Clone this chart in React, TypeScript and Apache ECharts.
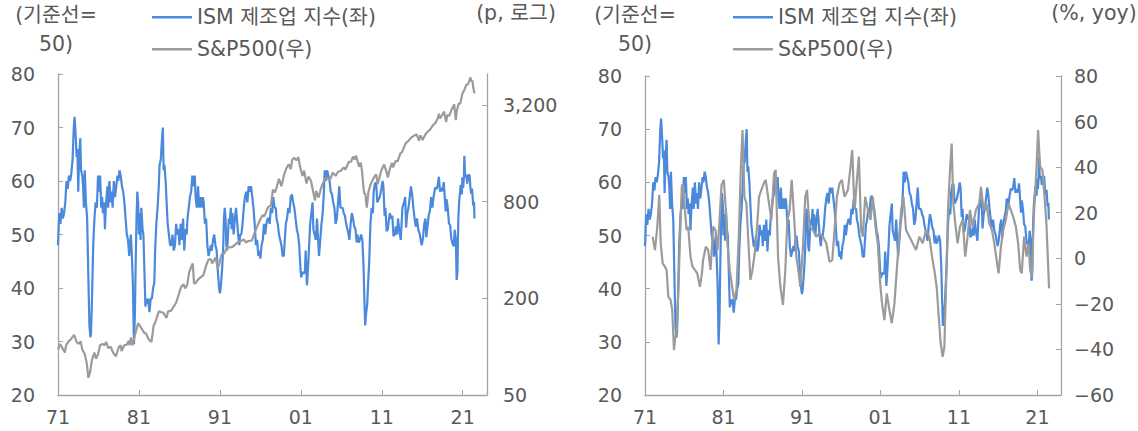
import { useEffect, useRef } from 'react';
import * as echarts from 'echarts';

const ismName = 'ISM 제조업 지수(좌)';
const spName = 'S&P500(우)';

const xTickYears = [1971, 1981, 1991, 2001, 2011, 2021];
const spTickLevels = [50, 200, 800, 3200];

const ismYears = [
  1971.0, 1971.15, 1971.3, 1971.45, 1971.6, 1971.75, 1971.9, 1972.05, 1972.2, 1972.35, 1972.5, 1972.65, 1972.8, 1972.95,
  1973.05, 1973.2, 1973.3, 1973.4, 1973.5, 1973.6, 1973.75, 1973.85, 1974.0, 1974.1, 1974.2, 1974.3, 1974.45, 1974.6,
  1974.75, 1974.88, 1975.0, 1975.08, 1975.2, 1975.35, 1975.5, 1975.65, 1975.8, 1975.95, 1976.1, 1976.2, 1976.35, 1976.45,
  1976.55, 1976.7, 1976.8, 1976.9, 1977.0, 1977.1, 1977.2, 1977.35, 1977.5, 1977.6, 1977.75, 1977.9, 1978.05, 1978.2,
  1978.35, 1978.45, 1978.6, 1978.75, 1978.9, 1979.05, 1979.2, 1979.35, 1979.5, 1979.65, 1979.8, 1979.9, 1980.0, 1980.1,
  1980.25, 1980.38, 1980.5, 1980.6, 1980.7, 1980.8, 1980.9, 1981.0, 1981.1, 1981.2, 1981.3, 1981.45, 1981.55, 1981.7,
  1981.8, 1981.9, 1982.0, 1982.15, 1982.3, 1982.45, 1982.6, 1982.75, 1982.9, 1983.0, 1983.15, 1983.3, 1983.45, 1983.55,
  1983.7, 1983.85, 1983.95, 1984.05, 1984.15, 1984.3, 1984.45, 1984.55, 1984.7, 1984.85, 1985.0, 1985.15, 1985.3, 1985.45,
  1985.6, 1985.75, 1985.9, 1986.0, 1986.15, 1986.3, 1986.45, 1986.6, 1986.75, 1986.9, 1987.0, 1987.15, 1987.3, 1987.45,
  1987.6, 1987.75, 1987.9, 1988.0, 1988.15, 1988.3, 1988.45, 1988.6, 1988.75, 1988.9, 1989.0, 1989.15, 1989.3, 1989.45,
  1989.6, 1989.75, 1989.9, 1990.0, 1990.15, 1990.3, 1990.45, 1990.6, 1990.75, 1990.9, 1991.0, 1991.1, 1991.25, 1991.4,
  1991.5, 1991.6, 1991.7, 1991.8, 1991.9, 1992.0, 1992.1, 1992.2, 1992.35, 1992.45, 1992.55, 1992.7, 1992.85, 1993.0,
  1993.1, 1993.25, 1993.4, 1993.5, 1993.65, 1993.8, 1993.95, 1994.1, 1994.25, 1994.4, 1994.55, 1994.7, 1994.85, 1995.0,
  1995.15, 1995.3, 1995.45, 1995.6, 1995.75, 1995.9, 1996.0, 1996.15, 1996.3, 1996.45, 1996.6, 1996.75, 1996.9, 1997.0,
  1997.15, 1997.3, 1997.45, 1997.6, 1997.75, 1997.9, 1998.0, 1998.15, 1998.3, 1998.45, 1998.6, 1998.75, 1998.9, 1999.0,
  1999.15, 1999.3, 1999.45, 1999.6, 1999.75, 1999.9, 2000.05, 2000.2, 2000.35, 2000.5, 2000.65, 2000.8, 2000.95, 2001.05,
  2001.2, 2001.35, 2001.5, 2001.6, 2001.75, 2001.9, 2002.0, 2002.15, 2002.3, 2002.45, 2002.55, 2002.7, 2002.85, 2003.0,
  2003.1, 2003.25, 2003.4, 2003.55, 2003.7, 2003.85, 2003.95, 2004.1, 2004.25, 2004.4, 2004.55, 2004.7, 2004.85, 2005.0,
  2005.15, 2005.3, 2005.45, 2005.6, 2005.75, 2005.9, 2006.0, 2006.15, 2006.3, 2006.45, 2006.6, 2006.75, 2006.9, 2007.0,
  2007.15, 2007.3, 2007.45, 2007.6, 2007.75, 2007.9, 2008.0, 2008.15, 2008.3, 2008.45, 2008.6, 2008.75, 2008.85, 2008.95,
  2009.05, 2009.2, 2009.35, 2009.45, 2009.6, 2009.75, 2009.9, 2010.0, 2010.15, 2010.3, 2010.45, 2010.6, 2010.75, 2010.95,
  2011.1, 2011.2, 2011.35, 2011.45, 2011.6, 2011.75, 2011.9, 2012.0, 2012.15, 2012.3, 2012.45, 2012.6, 2012.75, 2012.9,
  2013.0, 2013.15, 2013.35, 2013.55, 2013.75, 2013.9, 2014.0, 2014.15, 2014.3, 2014.45, 2014.6, 2014.75, 2014.9, 2015.05,
  2015.2, 2015.35, 2015.5, 2015.7, 2015.85, 2015.95, 2016.1, 2016.25, 2016.4, 2016.5, 2016.65, 2016.8, 2016.95, 2017.1,
  2017.25, 2017.4, 2017.6, 2017.75, 2017.9, 2018.05, 2018.2, 2018.35, 2018.5, 2018.65, 2018.75, 2018.9, 2019.0, 2019.15,
  2019.3, 2019.45, 2019.6, 2019.75, 2019.9, 2020.0, 2020.15, 2020.25, 2020.35, 2020.45, 2020.55, 2020.75, 2020.9, 2020.95,
  2021.05, 2021.15, 2021.2, 2021.3, 2021.45, 2021.55, 2021.7, 2021.85, 2021.95, 2022.05, 2022.15, 2022.3, 2022.4, 2022.45,
];
const ismValues = [
  48, 54, 52, 55, 53, 54, 56, 60, 58.5, 61, 60, 61.5, 64, 70,
  72, 68, 64.5, 66, 58, 64, 68, 62, 61, 59, 55, 62, 56, 53,
  42, 33, 30.8, 31.5, 38, 48, 53, 56, 55, 61, 58, 61, 55, 57,
  54, 56, 51, 55, 57, 59, 55, 60, 56, 58, 55, 60, 57, 59,
  61, 60, 62, 61, 59, 58, 56, 53, 50, 49, 46, 48, 50, 47,
  41, 29.5, 35, 45, 53, 58, 56, 50, 54, 49, 55, 51, 50, 42,
  36.5, 38, 37, 38, 35.5, 38, 38, 40, 41, 47, 52, 55, 59, 63,
  64, 68, 70, 62, 63, 60, 55, 52, 50, 48, 48, 50, 47, 48,
  52, 50, 51, 48, 52, 49, 53, 47, 51, 50, 53, 55, 57, 58,
  61, 59, 61, 57, 55, 59, 55, 57, 55, 57, 56, 52, 53, 48,
  46, 47, 48, 47, 49, 50, 48, 47, 43, 40, 39, 40, 43, 47,
  53, 55, 53, 48, 47, 50, 53, 52, 55, 51, 54, 50, 53, 55,
  53, 50, 48, 50, 50, 52, 55, 57, 58, 56, 59, 58, 59, 57,
  55, 52, 48, 49, 46, 47, 45.5, 48, 49, 52, 50, 52, 53, 53,
  52, 55, 54, 57, 55, 55, 53, 52, 50, 49, 48, 46, 46, 48.5,
  52, 53, 55, 54, 57, 57.5, 56, 55, 53, 51, 50, 48, 43.7, 42,
  43, 42.7, 43, 47, 40.5, 44, 47, 52, 54, 56, 51, 50, 49, 53,
  50, 46, 49, 52, 54, 58, 62, 60, 62, 61, 60, 58, 57.5, 56,
  55, 52, 53, 56, 59, 55, 55, 55, 54, 53.5, 52, 51, 50, 49,
  52, 54, 53, 51.5, 51, 48.5, 50, 48.5, 49, 50, 49, 44, 38, 33,
  35, 37, 42, 45, 52, 55, 54, 58, 59.5, 59.7, 56, 56.5, 57, 58.5,
  60, 59, 53.5, 55, 50.6, 51, 53, 54, 53, 53.5, 49.7, 50, 51.5, 50,
  53, 51, 49, 55, 56, 57, 51.3, 54, 55, 57, 59, 57.5, 55, 53,
  51.5, 53, 51, 50, 48.6, 48, 49.5, 52, 53, 49.5, 51.5, 53.5, 54.5, 57,
  55, 57, 58.8, 58.5, 59, 60.8, 58, 58.7, 58.1, 59.8, 57.7, 54.3, 56.6, 55,
  52.1, 51.7, 49.1, 48.3, 47.8, 50.9, 49.1, 41.5, 43.1, 52.6, 56, 59.3, 57.5, 60.7,
  58.7, 60.8, 64.7, 60.7, 61.2, 59.5, 61.1, 61.1, 58.8, 57.6, 58.6, 55.4, 56.1, 53.0,
];

const spYears = [
  1971.0, 1971.25, 1971.5, 1971.85, 1972.0, 1972.3, 1972.6, 1972.9, 1973.0, 1973.3, 1973.55, 1973.8, 1974.0, 1974.3,
  1974.55, 1974.75, 1974.95, 1975.2, 1975.5, 1975.7, 1975.95, 1976.2, 1976.5, 1976.75, 1976.95, 1977.2, 1977.5, 1977.8,
  1978.15, 1978.5, 1978.75, 1978.85, 1979.2, 1979.5, 1979.75, 1979.85, 1980.0, 1980.2, 1980.5, 1980.9, 1981.2, 1981.6,
  1981.9, 1982.2, 1982.55, 1982.8, 1983.1, 1983.45, 1983.8, 1984.0, 1984.4, 1984.6, 1984.95, 1985.3, 1985.6, 1985.9,
  1986.2, 1986.5, 1986.7, 1986.95, 1987.2, 1987.5, 1987.65, 1987.8, 1987.95, 1988.3, 1988.6, 1988.95, 1989.3, 1989.6,
  1989.9, 1990.05, 1990.45, 1990.75, 1990.95, 1991.2, 1991.5, 1991.95, 1992.3, 1992.6, 1992.95, 1993.3, 1993.6, 1993.95,
  1994.2, 1994.5, 1994.95, 1995.3, 1995.6, 1995.95, 1996.3, 1996.5, 1996.95, 1997.3, 1997.55, 1997.8, 1998.0, 1998.3,
  1998.6, 1998.9, 1999.2, 1999.5, 1999.75, 1999.95, 2000.2, 2000.45, 2000.7, 2000.9, 2001.2, 2001.4, 2001.7, 2001.95,
  2002.25, 2002.55, 2002.75, 2002.9, 2003.2, 2003.5, 2003.95, 2004.25, 2004.6, 2004.95, 2005.3, 2005.6, 2005.95, 2006.3,
  2006.5, 2006.95, 2007.2, 2007.45, 2007.65, 2007.8, 2007.95, 2008.2, 2008.4, 2008.55, 2008.75, 2008.85, 2008.95, 2009.15,
  2009.35, 2009.6, 2009.95, 2010.3, 2010.5, 2010.95, 2011.3, 2011.6, 2011.75, 2011.95, 2012.25, 2012.4, 2012.7, 2012.95,
  2013.3, 2013.5, 2013.95, 2014.3, 2014.6, 2014.95, 2015.3, 2015.6, 2015.75, 2016.05, 2016.3, 2016.6, 2016.95, 2017.3,
  2017.6, 2017.95, 2018.05, 2018.2, 2018.5, 2018.7, 2018.95, 2019.1, 2019.35, 2019.6, 2019.95, 2020.15, 2020.25, 2020.5,
  2020.7, 2020.95, 2021.2, 2021.45, 2021.65, 2021.85, 2021.95, 2022.05, 2022.2, 2022.3, 2022.45,
];
const spValues = [
  96, 104, 99, 92, 102, 108, 111, 117, 118, 107, 104, 108, 96, 90,
  79, 64, 69, 83, 92, 84, 90, 102, 104, 102, 107, 98, 100, 92,
  87, 99, 102, 94, 102, 103, 109, 102, 114, 102, 118, 140, 133, 123,
  120, 111, 107, 134, 146, 166, 164, 163, 151, 166, 167, 178, 188, 210,
  235, 245, 231, 242, 290, 318, 330, 250, 247, 262, 270, 278, 320, 350,
  350, 330, 360, 306, 330, 375, 380, 417, 415, 420, 435, 450, 455, 466,
  446, 455, 459, 515, 560, 615, 660, 650, 740, 760, 950, 915, 980, 1110,
  1000, 1163, 1290, 1370, 1280, 1469, 1500, 1450, 1517, 1320, 1160, 1250, 1040, 1148,
  1080, 911, 815, 936, 849, 975, 1112, 1120, 1100, 1212, 1160, 1230, 1248, 1310,
  1270, 1418, 1420, 1530, 1470, 1549, 1468, 1320, 1400, 1260, 968, 896, 903, 735,
  919, 1020, 1115, 1186, 1030, 1258, 1363, 1218, 1131, 1258, 1400, 1310, 1440, 1426,
  1600, 1630, 1848, 1920, 2000, 2060, 2100, 1920, 2080, 1940, 2065, 2170, 2240, 2390,
  2470, 2673, 2824, 2640, 2800, 2913, 2507, 2780, 2750, 2980, 3230, 2580, 2910, 3270,
  3270, 3760, 3970, 4300, 4310, 4570, 4766, 4515, 4530, 4130, 3785,
];

const yoyYears = [
  1971.97, 1972.27, 1972.57, 1972.82, 1973.0, 1973.25, 1973.54, 1973.75, 1973.97, 1974.26, 1974.47, 1974.69, 1974.86, 1975.03,
  1975.28, 1975.53, 1975.7, 1975.87, 1976.08, 1976.3, 1976.5, 1976.8, 1977.06, 1977.36, 1977.65, 1978.0, 1978.25, 1978.4,
  1978.75, 1979.05, 1979.35, 1979.69, 1979.98, 1980.24, 1980.45, 1980.75, 1981.04, 1981.3, 1981.5, 1981.8, 1982.1, 1982.36,
  1982.65, 1982.95, 1983.2, 1983.42, 1983.67, 1983.92, 1984.18, 1984.43, 1984.69, 1984.98, 1985.28, 1985.53, 1985.83, 1986.13,
  1986.38, 1986.68, 1987.1, 1987.44, 1987.65, 1987.95, 1988.25, 1988.58, 1988.88, 1989.14, 1989.43, 1989.69, 1989.94, 1990.28,
  1990.53, 1990.79, 1991.13, 1991.42, 1991.64, 1991.97, 1992.4, 1992.82, 1993.25, 1993.67, 1994.1, 1994.5, 1994.86, 1995.15,
  1995.45, 1995.79, 1996.08, 1996.42, 1996.85, 1997.14, 1997.4, 1997.7, 1998.0, 1998.25, 1998.54, 1998.75, 1999.05, 1999.4,
  1999.73, 2000.03, 2000.36, 2000.66, 2000.96, 2001.2, 2001.5, 2001.8, 2002.14, 2002.44, 2002.78, 2003.08, 2003.33, 2003.63,
  2003.92, 2004.26, 2004.69, 2005.1, 2005.53, 2005.96, 2006.38, 2006.8, 2007.23, 2007.57, 2007.86, 2008.16, 2008.42, 2008.67,
  2008.92, 2009.14, 2009.35, 2009.6, 2009.86, 2010.07, 2010.28, 2010.53, 2010.83, 2011.13, 2011.47, 2011.8, 2012.1, 2012.4,
  2012.74, 2013.16, 2013.58, 2013.8, 2014.14, 2014.5, 2014.86, 2015.2, 2015.5, 2015.8, 2016.05, 2016.35, 2016.64, 2016.97,
  2017.31, 2017.6, 2017.9, 2018.25, 2018.54, 2018.8, 2019.0, 2019.3, 2019.6, 2019.86, 2020.07, 2020.28, 2020.58, 2020.87,
  2021.08, 2021.34, 2021.64, 2021.9, 2022.14, 2022.48,
];
const yoyValues = [
  9.5, 3.6, 13.9, 27.8, 6.6, -2.2, -3.7, -5.1, -16.8, -18.3, -22.7, -40.3, -34.4, -33,
  -11, 16.8, 32.2, 32, 21.2, 12.4, 13.9, 0.7, -3.7, -5.1, -6.6, -12.5, -6.6, -0.8,
  5.1, 3.6, -5.1, 13.9, 12.4, 3.6, 13.9, 32.2, 34.4, 21.2, 6.6, -5.1, -12.5, -18.3,
  -13.9, 9.5, 38.7, 56.3, 27, 24.1, 6.6, -9.5, -5.1, 2.2, 13.9, 27, 30, 32.9,
  34.4, 27, 16.8, 37.3, 38.7, 0.7, -12.5, -20.5, -5.1, 16.8, 21.2, 34.4, 21.2, 0.7,
  -5.1, -12.5, 5.1, 27, 30, 13.9, 12.4, 9.5, 11, 9.5, 6.6, -1.5, -0.8, 12.4,
  27, 32.9, 34.4, 27, 30, 38.7, 47.5, 21.2, 34.4, 44.6, 12.4, 9.5, 27, 21.2,
  16.8, 27, 13.9, 6.6, -11, -19.8, -27.1, -15.4, -22.7, -28.5, -19.8, -5.1, 6.6, 21.2,
  27, 12.4, 9.5, 6.6, 3.6, 9.5, 6.6, 12.4, 9.5, 0.7, -5.1, -12.5, -25.6, -37.3,
  -43.2, -38.8, -12.5, 21.2, 38.7, 50.4, 24.1, 15.3, 6.6, 13.9, 16.8, 0.7, 9.5, 21.2,
  13.9, 21.2, 24.1, 31.4, 21.2, 24.1, 15.3, 12.4, 6.6, -0.8, -6.6, 5.1, 12.4, 16.8,
  24.1, 21.2, 18.3, 13.9, 6.6, -5.1, -6.6, 9.5, 0.7, 6.6, -5.1, -8, 21.2, 38.7,
  56.3, 40.2, 38.7, 27, 15.3, -13.2,
];

const BLUE = '#4A89DC';
const GRAY = '#9B9B9B';
const TEXT = '#595959';
const AXIS = '#A3A3A3';
const FONT = '"DejaVu Sans", "Noto Sans CJK KR", sans-serif';
const FS = 19;
const HFS = 20.5;

const zip = (xs: number[], ys: number[]) => xs.map((x, i) => [x, ys[i]]);
const LOG_MAX = Math.log(5000 / 50) / Math.log(4);

function xAxisFor(gridIndex: number) {
  return {
    type: 'value',
    gridIndex,
    min: 1971,
    max: 2024,
    interval: 10,
    axisLine: { show: true, onZero: false, lineStyle: { color: AXIS, width: 1.3 } },
    axisTick: { show: true, inside: true, length: 5, lineStyle: { color: AXIS }, customValues: xTickYears },
    axisLabel: {
      color: TEXT, fontSize: FS, fontFamily: FONT, margin: 12,
      customValues: xTickYears,
      formatter: (v: number) => String(Math.round(v) % 100).padStart(2, '0'),
    },
    splitLine: { show: false },
  };
}

const ismAxisBase = {
  type: 'value',
  min: 20,
  max: 80,
  interval: 10,
  position: 'left',
  axisLine: { show: true, lineStyle: { color: AXIS, width: 1.3 } },
  axisTick: { show: true, inside: true, length: 5, lineStyle: { color: AXIS } },
  splitLine: { show: false },
};

const option = {
  animation: false,
  backgroundColor: '#ffffff',
  grid: [
    { left: 58, top: 74, width: 429, height: 321, containLabel: false, outerBoundsMode: 'none' },
    { left: 645, top: 76, width: 416, height: 319, containLabel: false, outerBoundsMode: 'none' },
  ],
  xAxis: [xAxisFor(0), xAxisFor(1)],
  yAxis: [
    { ...ismAxisBase, gridIndex: 0, axisLabel: { color: TEXT, fontSize: FS, fontFamily: FONT, margin: 23 } },
    {
      type: 'value', gridIndex: 0, position: 'right', min: 0, max: LOG_MAX, interval: 1,
      axisLine: { show: true, lineStyle: { color: AXIS, width: 1.3 } },
      axisTick: { show: true, inside: true, length: 5, lineStyle: { color: AXIS }, customValues: [0, 1, 2, 3] },
      axisLabel: {
        color: TEXT, fontSize: FS, fontFamily: FONT, margin: 16, customValues: [0, 1, 2, 3],
        formatter: (v: number) => {
          const i = Math.round(v);
          return Math.abs(v - i) < 1e-6 && spTickLevels[i] !== undefined ? spTickLevels[i].toLocaleString('en-US') : '';
        },
      },
      splitLine: { show: false },
    },
    { ...ismAxisBase, gridIndex: 1, axisLabel: { color: TEXT, fontSize: FS, fontFamily: FONT, margin: 23 } },
    {
      type: 'value', gridIndex: 1, position: 'right', min: -60, max: 80, interval: 20,
      axisLine: { show: true, lineStyle: { color: AXIS, width: 1.3 } },
      axisTick: { show: true, inside: true, length: 5, lineStyle: { color: AXIS } },
      axisLabel: {
        color: TEXT, fontSize: FS, fontFamily: FONT, margin: 13,
        formatter: (v: number) => (v < 0 ? '\u2212' + Math.abs(v) : String(v)),
      },
      splitLine: { show: false },
    },
  ],
  legend: [
    { data: [{ name: ismName, icon: 'rect' }], left: 152, top: 7 },
    { data: [{ name: spName, icon: 'rect' }], left: 152, top: 39 },
    { data: [{ name: ismName, icon: 'rect' }], left: 733, top: 7 },
    { data: [{ name: spName, icon: 'rect' }], left: 733, top: 39 },
  ].map((l) => ({
    ...l,
    orient: 'horizontal',
    itemWidth: 40,
    itemHeight: 2.5,
    itemGap: 5,
    selectedMode: false,
    padding: 0,
    textStyle: { color: TEXT, fontSize: HFS, fontFamily: FONT, padding: [0, 0, 0, 0] },
  })),
  graphic: [
    { type: 'text', x: 56, y: 0, style: { text: '(기준선=\n50)', fill: TEXT, font: `${HFS}px ${FONT}`, align: 'center', lineHeight: 29 } },
    { type: 'text', x: 516, y: 3, style: { text: '(p, 로그)', fill: TEXT, font: `${HFS}px ${FONT}`, align: 'center' } },
    { type: 'text', x: 635, y: 0, style: { text: '(기준선=\n50)', fill: TEXT, font: `${HFS}px ${FONT}`, align: 'center', lineHeight: 29 } },
    { type: 'text', x: 1094, y: 3, style: { text: '(%, yoy)', fill: TEXT, font: `${HFS}px ${FONT}`, align: 'center' } },
  ],
  series: [
    {
      name: ismName, type: 'line', xAxisIndex: 0, yAxisIndex: 0, data: zip(ismYears, ismValues),
      showSymbol: false, symbol: 'none', lineStyle: { color: BLUE, width: 2.2 }, itemStyle: { color: BLUE }, z: 2,
    },
    {
      name: spName, type: 'line', xAxisIndex: 0, yAxisIndex: 1,
      data: spYears.map((x, i) => [x, Math.log(spValues[i] / 50) / Math.log(4)]),
      showSymbol: false, symbol: 'none', lineStyle: { color: GRAY, width: 2.2 }, itemStyle: { color: GRAY }, z: 3,
    },
    {
      name: ismName, type: 'line', xAxisIndex: 1, yAxisIndex: 2, data: zip(ismYears, ismValues),
      showSymbol: false, symbol: 'none', lineStyle: { color: BLUE, width: 2.2 }, itemStyle: { color: BLUE }, z: 2,
    },
    {
      name: spName, type: 'line', xAxisIndex: 1, yAxisIndex: 3, data: zip(yoyYears, yoyValues),
      showSymbol: false, symbol: 'none', lineStyle: { color: GRAY, width: 2.2 }, itemStyle: { color: GRAY }, z: 3,
    },
  ],
};

export default function App() {
  const ref = useRef<HTMLDivElement>(null);
  useEffect(() => {
    const chart = echarts.init(ref.current as HTMLDivElement, null, { renderer: 'svg' });
    chart.setOption(option as any);
    return () => chart.dispose();
  }, []);
  return <div ref={ref} style={{ position: 'fixed', left: 0, top: 0, width: 1138, height: 431 }} />;
}
